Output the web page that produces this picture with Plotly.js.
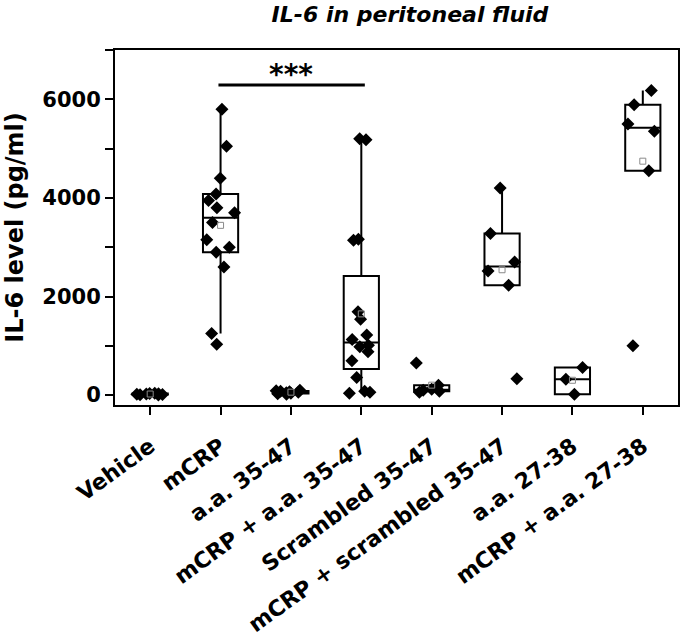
<!DOCTYPE html>
<html><head><meta charset="utf-8">
<script src="https://cdn.plot.ly/plotly-3.0.1.min.js"></script>
<style>html,body{margin:0;padding:0;background:#fff}</style>
</head><body><div id="chart" style="width:680px;height:638px"></div>
<script>
// ---- data ----
const categories = ['Vehicle', 'mCRP', 'a.a. 35-47', 'mCRP + a.a. 35-47', 'Scrambled 35-47', 'mCRP + scrambled 35-47', 'a.a. 27-38', 'mCRP + a.a. 27-38'];
const vehicle = [10, 30, 20, 5, 35, 15, 25, 40];
const mcrp = [5800, 5050, 4400, 4080, 3950, 3800, 3700, 3500, 3150, 3000, 2900, 2600, 1250, 1030];
const aa3547 = [100, 70, 50, 40, 80, 30, 60, 20, 90];
const mcrpAa3547 = [5200, 5180, 3160, 3140, 1690, 1540, 1220, 1130, 1010, 980, 880, 700, 360, 80, 60, 40];
const scrambled3547 = [654, 200, 120, 100, 80, 60];
const mcrpScrambled3547 = [4200, 3280, 2700, 2520, 2230, 330];
const aa2738 = [561, 324, 20];
const mcrpAa2738 = [6180, 5890, 5500, 5350, 4550, 1000];
const groups = [vehicle, mcrp, aa3547, mcrpAa3547, scrambled3547, mcrpScrambled3547, aa2738, mcrpAa2738];

const sigFrom = 'mCRP';
const sigTo = 'mCRP + a.a. 35-47';
const sigLabel = '***';
const sigLevel = 6290;

const titleText = 'IL-6 in peritoneal fluid';
const yTitle = 'IL-6 level (pg/ml)';

// ---- build traces ----
const bx = [], by = [];
groups.forEach((g, i) => g.forEach(v => { bx.push(categories[i]); by.push(v); }));
const means = groups.map(g => g.reduce((a, b) => a + b, 0) / g.length);

const boxTrace = {
  type: 'box', x: bx, y: by,
  boxpoints: 'all', jitter: 0.9, pointpos: 0,
  quartilemethod: 'exclusive',
  width: 0.5, whiskerwidth: 0,
  fillcolor: 'rgba(0,0,0,0)',
  line: {color: 'black', width: 2},
  marker: {symbol: 'diamond', size: 10, color: 'black'},
  showlegend: false, hoverinfo: 'skip'
};
const meanTrace = {
  type: 'scatter', mode: 'markers', x: categories, y: means,
  marker: {symbol: 'square-open', size: 6, color: '#8a8a8a', line: {width: 1, color: '#8a8a8a'}},
  showlegend: false, hoverinfo: 'skip'
};

const i1 = categories.indexOf(sigFrom), i3 = categories.indexOf(sigTo);

const layout = {
  width: 680, height: 638,
  margin: {l: 115, r: 2, t: 50, b: 233, pad: 0},
  paper_bgcolor: 'white', plot_bgcolor: 'white',
  font: {family: 'DejaVu Sans', color: 'black', size: 21},
  showlegend: false,
  title: {text: titleText, font: {size: 22, weight: 'bold', style: 'italic', color: 'black'},
          x: 410 / 680, xref: 'container', xanchor: 'center',
          y: 1 - 14 / 638, yref: 'container', yanchor: 'middle'},
  xaxis: {type: 'category', range: [-0.5, 7.5], showline: true, mirror: true, linewidth: 2, linecolor: 'black',
          ticks: 'outside', ticklen: 8, tickwidth: 2, tickcolor: 'black', tickangle: -36, ticklabelstandoff: 10,
          tickfont: {size: 22, weight: 'bold', color: 'black'}, showgrid: false, zeroline: false, automargin: false},
  yaxis: {range: [-200, 7000], tick0: 0, dtick: 2000, showline: true, mirror: true, linewidth: 2, linecolor: 'black',
          ticks: 'outside', ticklen: 8, tickwidth: 2, tickcolor: 'black',
          tickfont: {size: 21, weight: 'bold', color: 'black'},
          minor: {dtick: 1000, tick0: 0, ticks: 'outside', ticklen: 8, tickwidth: 2, tickcolor: 'black', showgrid: false},
          showgrid: false, zeroline: false, automargin: false,
          title: {text: yTitle, font: {size: 24, weight: 'bold', color: 'black'}, standoff: 12}},
  shapes: [{type: 'line', xref: 'x', yref: 'y', x0: i1 - 0.03, x1: i3 + 0.05, y0: sigLevel, y1: sigLevel,
            line: {color: 'black', width: 3}}],
  annotations: [{xref: 'x', yref: 'y', x: (i1 + i3) / 2, y: 6500, text: sigLabel, showarrow: false,
                 font: {size: 28, weight: 'bold', color: 'black'}, yanchor: 'middle'}]
};

Plotly.newPlot('chart', [boxTrace, meanTrace], layout, {displayModeBar: false, staticPlot: true});
</script>
</body></html>
